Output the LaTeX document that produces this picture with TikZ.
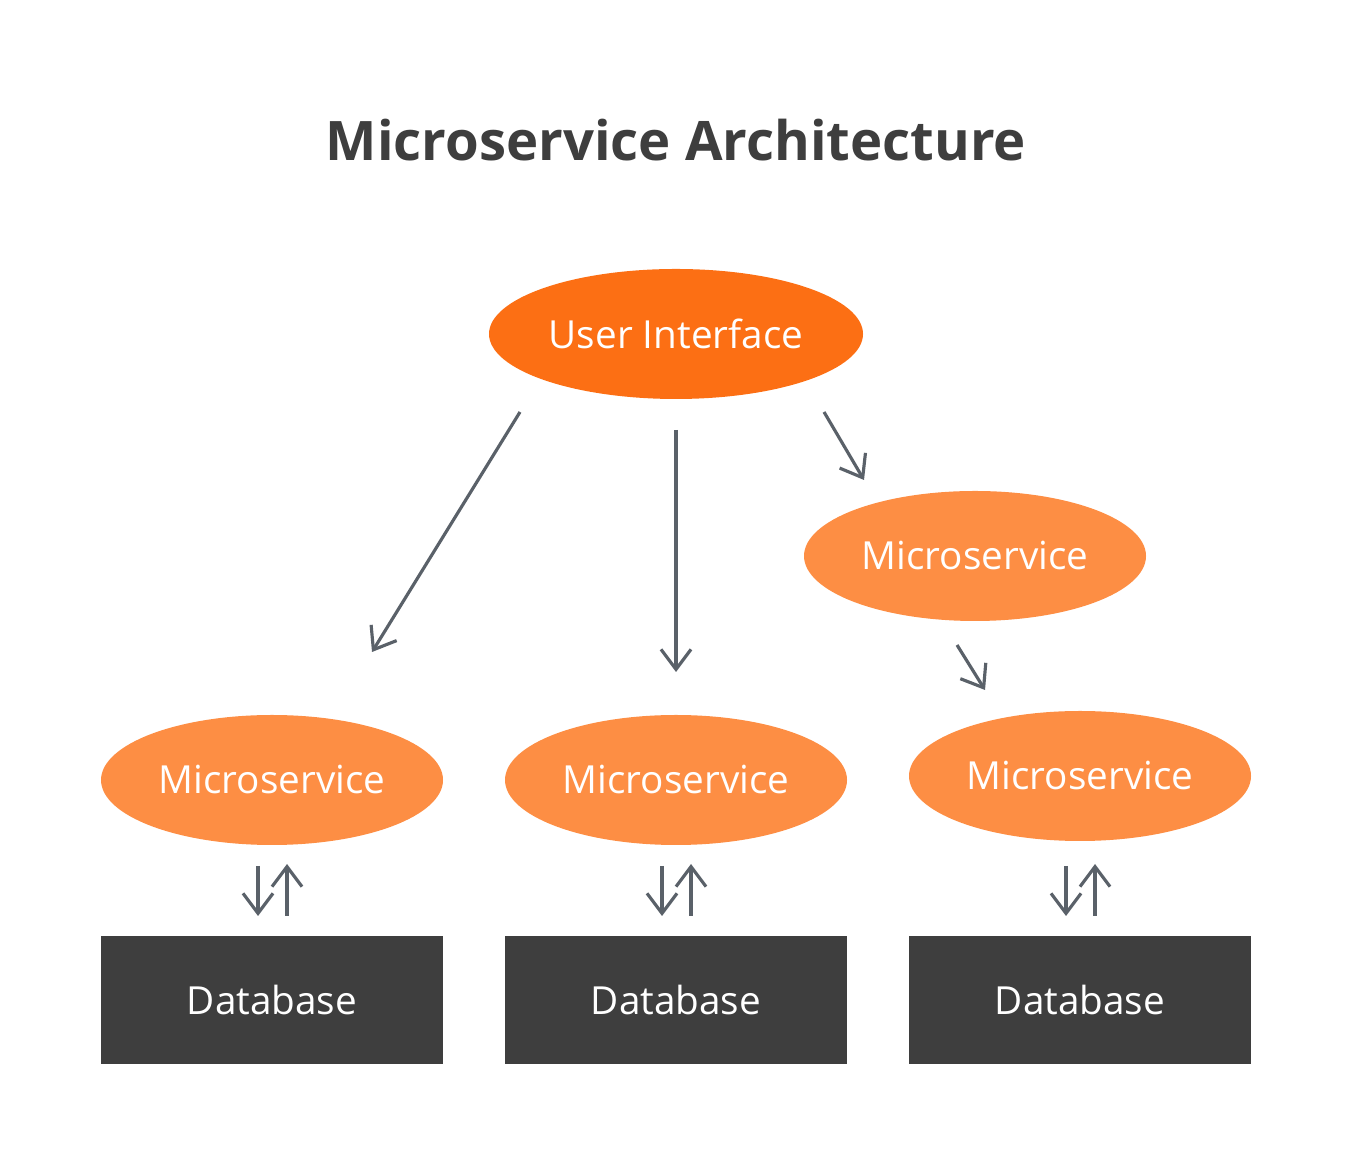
\documentclass[tikz,border=0pt]{standalone}
\usepackage{fontspec}
\setmainfont{Open Sans}
\usetikzlibrary{positioning,shapes,arrows.meta}
\definecolor{uiorange}{HTML}{FC6F14}
\definecolor{msorange}{HTML}{FD8E44}
\definecolor{dbgray}{HTML}{3E3E3E}
\definecolor{arrowgray}{HTML}{5A6169}
\tikzset{
  service/.style={ellipse, fill=msorange, text=white, inner sep=0pt, minimum width=3.42cm, minimum height=1.3cm, font=\fontsize{11}{13}\selectfont},
  database/.style={rectangle, fill=dbgray, text=white, minimum width=3.42cm, minimum height=1.28cm, font=\fontsize{11}{13}\selectfont},
  link/.style={arrowgray, line width=0.9pt, -{Straight Barb[length=2mm,width=3mm]}}
}
\begin{document}
\begin{tikzpicture}
    \useasboundingbox (0,0) rectangle (13.52,11.64);

    % Title
    \node[font=\fontsize{15.5}{18}\bfseries\selectfont, text=dbgray] (title) at (6.76,10.24) {Microservice Architecture};

    % User interface
    \node[service, fill=uiorange, minimum width=3.74cm] (ui) at (6.76,8.30) {User Interface};

    % Services
    \node[service] (msr) at (9.75,6.08) {Microservice};
    \node[service] (ms1) at (2.72,3.84) {Microservice};
    \node[service] (ms2) at (6.76,3.84) {Microservice};
    \node[service] (ms3) at (10.80,3.88) {Microservice};

    % Databases
    \node[database] (db1) at (2.72,1.64) {Database};
    \node[database] (db2) at (6.76,1.64) {Database};
    \node[database] (db3) at (10.80,1.64) {Database};

    % Arrow ends
    \coordinate (a1) at (5.20,7.52);
    \coordinate (b1) at (3.72,5.12);
    \coordinate (a2) at (6.76,7.34);
    \coordinate (b2) at (6.76,4.92);
    \coordinate (a3) at (8.24,7.52);
    \coordinate (b3) at (8.64,6.84);
    \coordinate (a4) at (9.57,5.19);
    \coordinate (b4) at (9.85,4.74);

    \draw[link] (a1) -- (b1);
    \draw[link] (a2) -- (b2);
    \draw[link] (a3) -- (b3);
    \draw[link] (a4) -- (b4);

    % Service to database
    \foreach \x in {2.72,6.76,10.80} {
        \draw[link] (\x-0.14,2.98) -- (\x-0.14,2.48);
        \draw[link] (\x+0.15,2.48) -- (\x+0.15,3.00);
    }
\end{tikzpicture}
\end{document}
